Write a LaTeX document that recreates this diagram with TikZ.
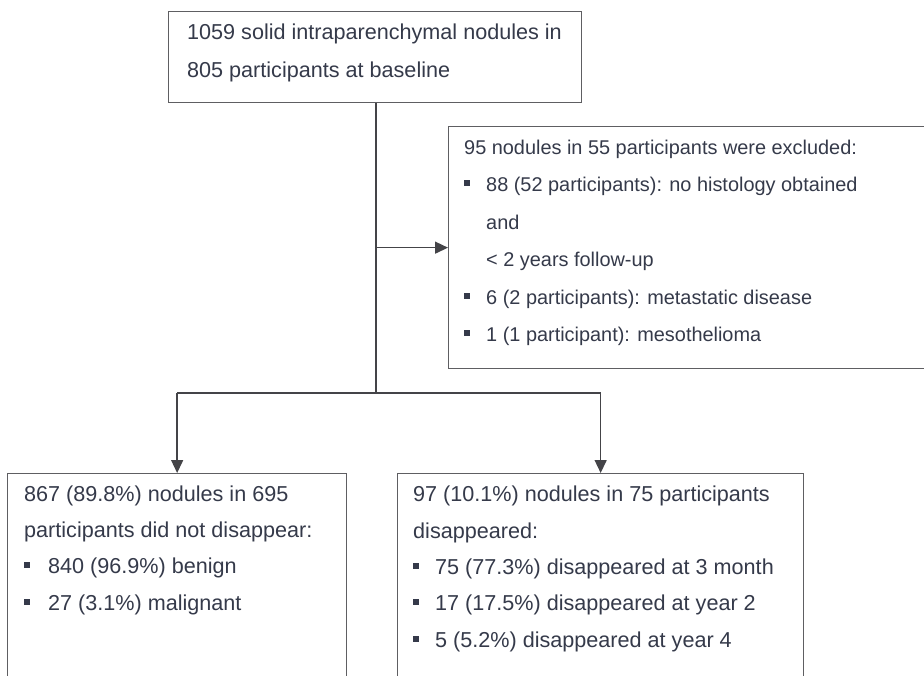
\documentclass[tikz,border=0pt]{standalone}
\usepackage{fontspec}
\setmainfont{Liberation Sans}
\usetikzlibrary{arrows.meta}
\definecolor{ink}{HTML}{353A4A}
\definecolor{frame}{HTML}{5E5E62}
\definecolor{wire}{HTML}{444448}
% square bullet followed by a fixed indent
\newcommand{\itemmark}[1]{\makebox[#1][l]{\rule[5.3pt]{6pt}{6pt}}}
\begin{document}
\begin{tikzpicture}[x=1pt,y=-1pt,
  box/.style={draw=frame,line width=1.3pt,anchor=north west,inner sep=0pt,fill=white},
  txt/.style={anchor=base west,align=left,inner sep=0pt,text=ink,
              font=\fontsize{19.9}{37.5}\selectfont},
  bigtxt/.style={txt,font=\fontsize{21.6}{36.3}\selectfont},
  link/.style={draw=wire,line width=1.4pt},
  arr/.style={link,-{Triangle[length=13pt,width=12pt]}}]
\useasboundingbox (0,0) rectangle (924,675);
\clip (0,0) rectangle (924,675);

% boxes
\node[box,minimum width=413pt,minimum height=91pt] (base) at (168,11) {};
\node[box,minimum width=490pt,minimum height=242pt] (excl) at (448,126) {};
\node[box,minimum width=339pt,minimum height=240pt] (stay) at (7,473) {};
\node[box,minimum width=406pt,minimum height=240pt] (gone) at (397,473) {};

% box texts (each node is placed by the baseline of its last line)
\node[txt,font=\fontsize{21.6}{38}\selectfont] (basetxt) at (187,77)
  {1059 solid intraparenchymal nodules in\\805 participants at baseline};
\node[txt] (excltxt) at (464,341.5)
  {95 nodules in 55 participants were excluded:\\
   \itemmark{22pt}88 (52 participants): no histology obtained\\
   \hspace*{22pt}and\\
   \hspace*{22pt}< 2 years follow-up\\
   \itemmark{22pt}6 (2 participants): metastatic disease\\
   \itemmark{22pt}1 (1 participant): mesothelioma};
\node[bigtxt] (staytxt) at (24,610)
  {867 (89.8\%) nodules in 695\\
   participants did not disappear:\\
   \itemmark{24pt}840 (96.9\%) benign\\
   \itemmark{24pt}27 (3.1\%) malignant};
\node[bigtxt] (gonetxt) at (413,647)
  {97 (10.1\%) nodules in 75 participants\\
   disappeared:\\
   \itemmark{22pt}75 (77.3\%) disappeared at 3 month\\
   \itemmark{22pt}17 (17.5\%) disappeared at year 2\\
   \itemmark{22pt}5 (5.2\%) disappeared at year 4};

% connectors
\coordinate (split) at (376,393);
\draw[link] (base.south -| split) -- (split);
\draw[arr] (split |- excl.west) -- (excl.west);
\draw[link] (stay.north |- split) -- (gone.north |- split);
\draw[arr] (stay.north |- split) -- (stay.north);
\draw[arr] (gone.north |- split) -- (gone.north);
\end{tikzpicture}
\end{document}
